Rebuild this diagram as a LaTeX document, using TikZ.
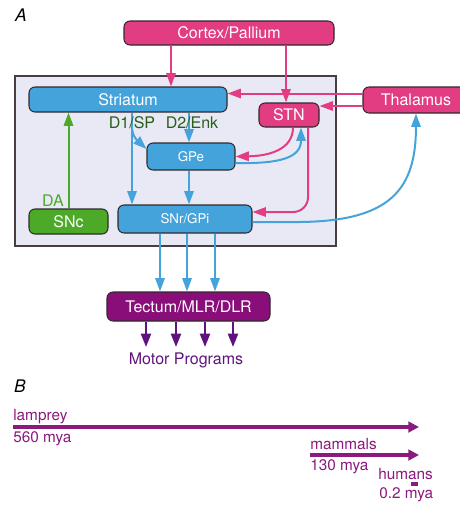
\documentclass[tikz,border=0pt]{standalone}
\usepackage{fontspec}
\setmainfont{TeX Gyre Heros}
\usetikzlibrary{arrows.meta}
\definecolor{pk}{RGB}{226,60,130}
\definecolor{bl}{RGB}{69,163,220}
\definecolor{gr}{RGB}{76,170,40}
\definecolor{dgr}{RGB}{40,95,25}
\definecolor{tec}{RGB}{138,14,122}
\definecolor{mot}{RGB}{95,20,125}
\definecolor{evo}{RGB}{140,25,125}
\definecolor{bgfill}{RGB}{232,233,245}
\definecolor{edge}{RGB}{50,40,45}
\begin{document}
\begin{tikzpicture}[x=0.75pt,y=-0.75pt,
  box/.style={draw=edge, line width=0.8pt, rounded corners=4.5pt, text=white, inner sep=0pt, font=\fontsize{12}{14}\selectfont},
  sbox/.style={box, font=\fontsize{10}{12}\selectfont},
  lab/.style={inner sep=0pt, anchor=base, font=\fontsize{12}{14}\selectfont},
  blarrow/.style={draw=bl, line width=1.5pt, -{Triangle[length=10pt,width=7pt]}},
  pkarrow/.style={draw=pk, line width=1.5pt, -{Triangle[length=10pt,width=7pt]}},
  grarrow/.style={draw=gr, line width=1.5pt, -{Triangle[length=10pt,width=7pt]}},
  motarrow/.style={draw=mot, line width=1.6pt, -{Triangle[length=10pt,width=7.5pt]}},
  evoarrow/.style={draw=evo, line width=2.3pt, -{Triangle[length=8pt,width=8pt]}},
  evolab/.style={inner sep=0pt, anchor=base west, text=evo, font=\fontsize{11.5}{13}\selectfont}]
\useasboundingbox (0,0) rectangle (460,511);
\clip (0,0) rectangle (460,511);
% columns / rows
\coordinate (c132) at (132,0);
\coordinate (c171) at (171,0);
\coordinate (c189) at (189,0);
\coordinate (c286) at (286,0);
\coordinate (c293) at (293,0);
\coordinate (c301) at (301,0);
\coordinate (c308) at (308,0);
\coordinate (y93) at (0,93.5);
\coordinate (y106) at (0,106);
\coordinate (y163) at (0,163);
\coordinate (y212) at (0,212);
\coordinate (y222) at (0,222);
% background panel
\node[draw=edge!90, line width=0.8pt, fill=bgfill, minimum width=240.75pt, minimum height=127.5pt, inner sep=0pt] (bg) at (175.5,161) {};
% boxes
\node[box, fill=pk, minimum width=157.5pt, minimum height=18pt] (cortex) at (229,33) {Cortex/Pallium};
\node[box, fill=bl, minimum width=148.5pt, minimum height=18.75pt] (striatum) at (128,99.5) {Striatum};
\node[box, fill=pk, minimum width=79.5pt, minimum height=19.5pt] (thalamus) at (416,100) {Thalamus};
\node[box, fill=pk, minimum width=45pt, minimum height=18pt] (stn) at (289,115) {STN};
\node[sbox, fill=bl, minimum width=66pt, minimum height=20.25pt] (gpe) at (191,156.5) {GPe};
\node[box, fill=gr, minimum width=59.25pt, minimum height=18.75pt] (snc) at (68.5,221.5) {SNc};
\node[sbox, fill=bl, minimum width=100.5pt, minimum height=21pt] (snr) at (185,219) {SNr/GPi};
\node[box, fill=tec, minimum width=122.25pt, minimum height=21.75pt] (tectum) at (188.5,306.5) {Tectum/MLR/DLR};
% connectors
\draw[pkarrow] (cortex.south -| c171) -- (striatum.north -| c171);
\draw[pkarrow] (cortex.south -| c286) -- (stn.north -| c286);
\draw[pkarrow] (thalamus.west |- y93) -- (striatum.east |- y93);
\draw[pkarrow] (thalamus.west |- y106) -- (stn.east |- y106);
\draw[grarrow] (snc.north) -- (striatum.south -| snc.north);
\draw[blarrow] (striatum.south -| c132) -- (snr.north -| c132);
\coordinate (split) at (132,127);
\draw[blarrow] (split) .. controls (132,137) and (139,142) .. ([yshift=5.6pt]gpe.west);
\draw[blarrow] (striatum.south -| c189) -- (gpe.north -| c189);
\draw[blarrow] (gpe.south -| c189) -- (snr.north -| c189);
\draw[pkarrow] (stn.south -| c293) .. controls (293,150) and (268,156) .. (gpe.east);
\draw[blarrow] (gpe.east |- y163) .. controls (282,164) and (301,157) .. (stn.south -| c301);
\draw[pkarrow, rounded corners=11pt] (stn.south -| c308) |- (snr.east |- y212);
\draw[blarrow] (snr.east |- y222) -- (300,222) .. controls (390,221) and (416,190) .. (thalamus.south);
\foreach \x in {160,187,215}{
  \draw[blarrow] (snr.south -| \x,0) -- (tectum.north -| \x,0);
}
\foreach \x/\n in {146/m1,176/m2,205/m3,233/m4}{
  \coordinate (\n) at (\x,347);
  \draw[motarrow] (tectum.south -| \n) -- (\n);
}
% labels
\node[lab, font=\fontsize{13}{15}\selectfont\itshape] (la) at (21,21.7) {A};
\node[lab, text=dgr] (d1) at (132,128) {D1/SP};
\node[lab, text=dgr] (d2) at (192,128) {D2/Enk};
\node[lab, text=gr] (da) at (53,206) {DA};
\node[lab, text=mot] (motor) at (186,364) {Motor Programs};
% part B
\node[lab, font=\fontsize{13}{15}\selectfont\itshape] (lb) at (20,392) {B};
\node[evolab] (lamprey) at (13,420) {lamprey};
\node[evolab] (lmya) at (13,442) {560 mya};
\node[evolab] (mammals) at (310,449) {mammals};
\node[evolab] (mmya) at (310,470.5) {130 mya};
\node[evolab] (humans) at (378,479) {humans};
\node[evolab] (hmya) at (379,498) {0.2 mya};
\coordinate (l0) at (13,427);
\coordinate (l1) at (419,427);
\coordinate (m0) at (310,455);
\coordinate (m1e) at (419,455);
\coordinate (h0) at (411,484);
\coordinate (h1) at (418,484);
\draw[evoarrow] (l0) -- (l1);
\draw[evoarrow] (m0) -- (m1e);
\draw[draw=evo, line width=2.3pt] (h0) -- (h1);
\end{tikzpicture}
\end{document}
